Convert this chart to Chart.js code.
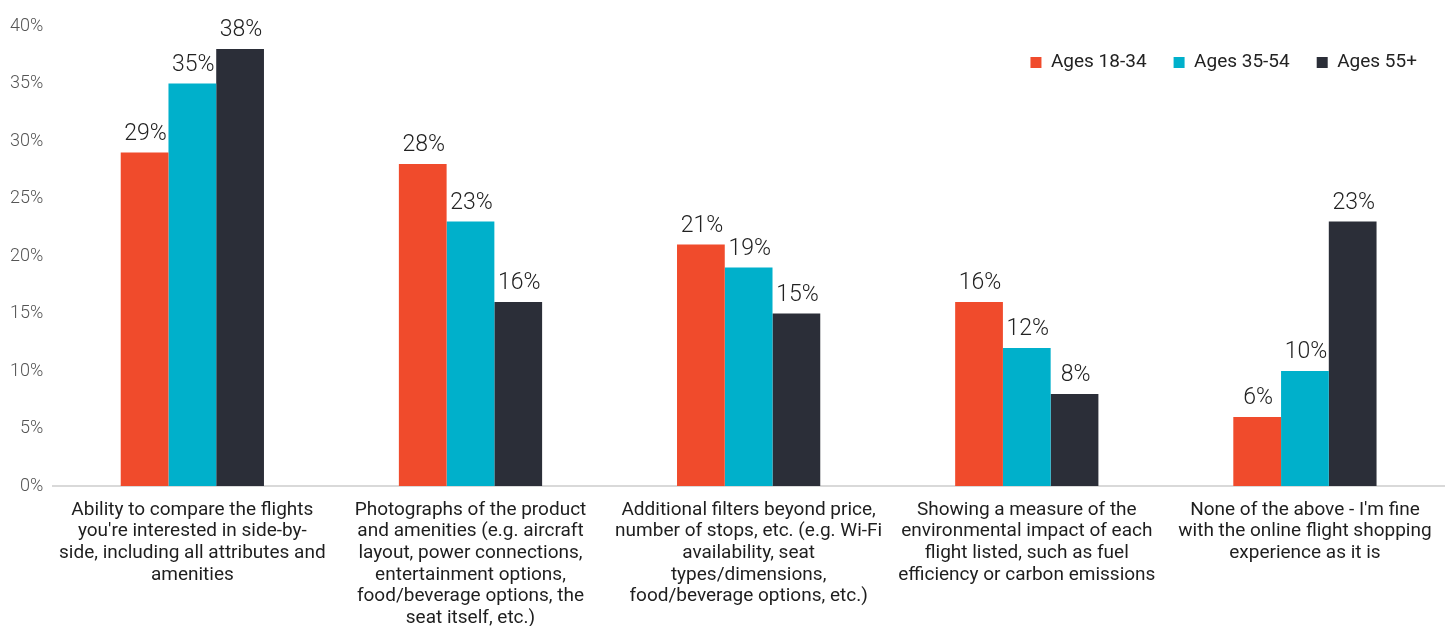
<!DOCTYPE html>
<html>
<head>
<meta charset="utf-8">
<script src="https://cdn.jsdelivr.net/npm/chart.js@4.4.1/dist/chart.umd.min.js"></script>
<style>
  html, body { margin: 0; padding: 0; background: #fff; }
  #wrap { width: 1448px; height: 626px; }
</style>
</head>
<body>
<div id="wrap"><canvas id="featureChart"></canvas></div>
<script>
const categories = [
  ["Ability to compare the flights", "you're interested in side-by-", "side, including all attributes and", "amenities"],
  ["Photographs of the product", "and amenities (e.g. aircraft", "layout, power connections,", "entertainment options,", "food/beverage options, the", "seat itself, etc.)"],
  ["Additional filters beyond price,", "number of stops, etc. (e.g. Wi-Fi", "availability, seat", "types/dimensions,", "food/beverage options, etc.)"],
  ["Showing a measure of the", "environmental impact of each", "flight listed, such as fuel", "efficiency or carbon emissions"],
  ["None of the above - I'm fine", "with the online flight shopping", "experience as it is"]
];
const seriesNames = ['Ages 18-34', 'Ages 35-54', 'Ages 55+'];
const ages18to34 = [29, 28, 21, 16, 6];
const ages35to54 = [35, 23, 19, 12, 10];
const ages55plus = [38, 16, 15, 8, 23];
const yMax = 40;
const yStep = 5;

const colors = ['#f04b2c', '#00b0cb', '#2b2e38'];

// percentage above each bar
const valueLabels = {
  id: 'valueLabels',
  afterDatasetsDraw(chart) {
    const ctx = chart.ctx;
    ctx.save();
    ctx.font = '300 23px Roboto';
    ctx.fillStyle = '#222';
    ctx.textAlign = 'center';
    ctx.textBaseline = 'alphabetic';
    chart.data.datasets.forEach((ds, i) => {
      chart.getDatasetMeta(i).data.forEach((bar, j) => {
        ctx.fillText(ds.data[j] + '%', bar.x + 1, bar.y - 13);
      });
    });
    ctx.restore();
  }
};

// legend sits over the top of the plot instead of taking its own row
const floatingLegend = {
  id: 'floatingLegend',
  beforeLayout(chart) {
    const lg = chart.legend;
    if (lg && !lg._floating) {
      const fit = lg.fit.bind(lg);
      lg.fit = function () {
        fit();
        this._fullHeight = this.height;
        this.height = 0;
      };
      lg._floating = true;
    }
  },
  afterLayout(chart) {
    const lg = chart.legend;
    if (lg && lg._fullHeight) {
      lg.height = lg._fullHeight;
      lg.bottom = lg.top + lg.height;
    }
  }
};

const data = {
  labels: categories,
  datasets: [
    { label: seriesNames[0], data: ages18to34, backgroundColor: colors[0] },
    { label: seriesNames[1], data: ages35to54, backgroundColor: colors[1] },
    { label: seriesNames[2], data: ages55plus, backgroundColor: colors[2] }
  ]
};

const config = {
  type: 'bar',
  data: data,
  plugins: [valueLabels, floatingLegend],
  options: {
    responsive: true,
    maintainAspectRatio: false,
    animation: false,
    categoryPercentage: 0.515,
    barPercentage: 1,
    layout: {
      padding: { top: 26, right: 4, left: 0, bottom: -16 }
    },
    plugins: {
      tooltip: { enabled: false },
      legend: {
        position: 'top',
        align: 'end',
        labels: {
          boxWidth: 11,
          boxHeight: 11,
          padding: 27,
          color: '#222',
          font: { family: 'Roboto', size: 19 }
        }
      }
    },
    scales: {
      x: {
        grid: { display: false, drawTicks: false },
        border: { display: true, color: '#d9d9d9', width: 2 },
        ticks: {
          autoSkip: false,
          maxRotation: 0,
          padding: 13,
          color: '#1e1e1e',
          font: { family: 'Roboto', size: 19, lineHeight: 1.14 }
        }
      },
      y: {
        min: 0,
        max: yMax,
        grid: { display: false, drawTicks: false },
        border: { display: false },
        ticks: {
          stepSize: yStep,
          padding: 10,
          color: '#555',
          font: { family: 'Roboto', size: 18, weight: '300' },
          callback: (v) => v + '%'
        }
      }
    }
  }
};

const featureChart = new Chart(document.getElementById('featureChart'), config);
</script>
</body>
</html>
